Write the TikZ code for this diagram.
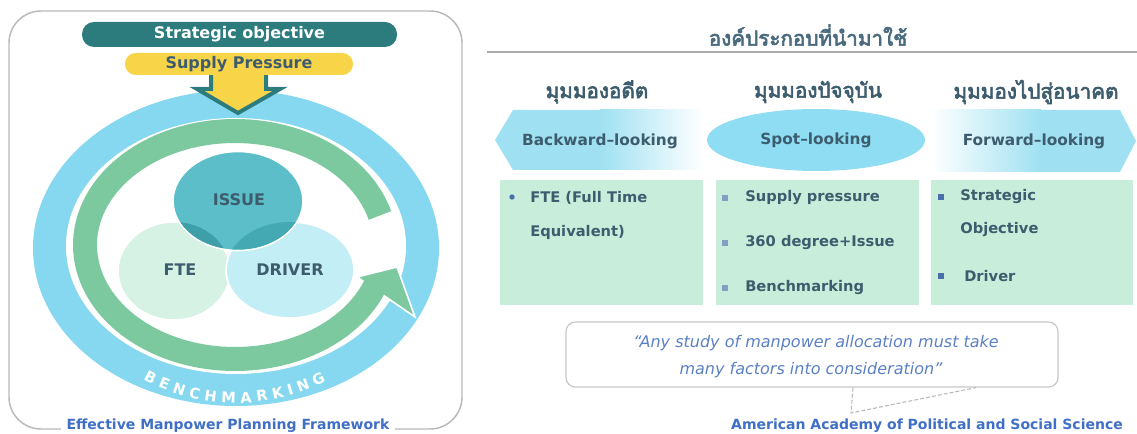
\documentclass[tikz,border=0pt]{standalone}
\usepackage{fontspec}
\usetikzlibrary{shapes.geometric,decorations.text}
\newfontfamily\labfont{DejaVu Sans}
\newfontfamily\thaifont[Script=Thai, FakeBold=3]{Loma}

\definecolor{panelgray}{HTML}{B9B9B9}
\definecolor{tealdark}{HTML}{2C7C7E}
\definecolor{supplyyellow}{HTML}{F8D548}
\definecolor{ringblue}{HTML}{86D8F0}
\definecolor{ringgreen}{HTML}{7CC9A0}
\definecolor{issuecol}{HTML}{5CBEC9}
\definecolor{issuedark}{HTML}{3E9FA9}
\definecolor{issuedarkb}{HTML}{45A9B3}
\definecolor{ftecol}{HTML}{D5F2E5}
\definecolor{drivercol}{HTML}{C4EEF6}
\definecolor{slate}{HTML}{3D5D6E}
\definecolor{titleslate}{HTML}{4A6A7E}
\definecolor{capblue}{HTML}{3F6FC6}
\definecolor{quoteblue}{HTML}{5A80C4}
\definecolor{boxgreen}{HTML}{C8EEDB}
\definecolor{spotblue}{HTML}{8EDDF3}
\definecolor{lookblue}{HTML}{9FE1F2}
\definecolor{bulletblue}{HTML}{4A6EA8}
\definecolor{bulletlight}{HTML}{7F9FC4}
\definecolor{rulegray}{HTML}{ABABAB}

\begin{document}
\begin{tikzpicture}[x=0.75pt,y=-0.75pt,
  panelline/.style={draw=panelgray, line width=1.1pt, rounded corners=24pt},
  pill/.style={rounded corners=9pt, inner sep=0pt,
    font=\labfont\bfseries\fontsize{12}{14}\selectfont},
  vlabel/.style={font=\labfont\bfseries\fontsize{12}{14}\selectfont, text=slate},
  thaititle/.style={font=\thaifont\fontsize{15.5}{18}\selectfont, text=titleslate},
  thaihead/.style={font=\thaifont\fontsize{15.5}{18}\selectfont, text=slate},
  looktext/.style={font=\labfont\bfseries\fontsize{11.5}{13}\selectfont, text=slate},
  gbox/.style={fill=boxgreen, minimum width=152pt, minimum height=93.75pt, inner sep=0pt},
  item/.style={anchor=west, inner sep=0pt, font=\labfont\bfseries\fontsize{11}{13}\selectfont, text=slate},
  roundbullet/.style={circle, fill=bulletblue, minimum size=4pt, inner sep=0pt},
  squarebullet/.style={rectangle, fill=#1, minimum size=4pt, inner sep=0pt},
  quotebox/.style={draw=panelgray!80, line width=0.9pt, rounded corners=7pt,
    minimum width=369pt, minimum height=48.75pt, inner sep=0pt},
  quotetext/.style={font=\labfont\itshape\fontsize{12}{14}\selectfont, text=quoteblue, inner sep=0pt},
  tailline/.style={draw=panelgray, line width=0.8pt, dash pattern=on 3pt off 1.5pt},
  srctext/.style={font=\labfont\bfseries\fontsize{10.5}{12}\selectfont, text=capblue},
]
\useasboundingbox (0,0) rectangle (1137,434);

% ---------- left panel: planning framework ----------
\draw[panelline] (9,11) rectangle (462,429);

% outer benchmarking ring and the white field inside it
\fill[ringblue] (236,248) ellipse (203 and 158);
\fill[white] (236,246) ellipse (170 and 128);

% circular green arrow: head first, then the curved band on top
\filldraw[fill=ringgreen, draw=white, line width=1.2pt, line join=miter]
  (357,277) -- (397,267) -- (415,317) -- cycle;
\draw[ringgreen, line width=18pt]
  plot[domain=15:339, samples=140] ({235+150*cos(\x)},{245-114*sin(\x)});

% curved ring caption
\path[decorate, decoration={text along path, text align={fit to path}, text color=white,
  text={|\labfont\bfseries\fontsize{11}{12}\selectfont|BENCHMARKING}}]
  plot[domain=238:301, samples=60] ({236+175*cos(\x)},{248-155*sin(\x)});

% three overlapping circles
\filldraw[fill=ftecol, draw=white, line width=1.2pt] (174,271) ellipse (56 and 49);
\filldraw[fill=drivercol, draw=white, line width=1.2pt] (290,270) ellipse (64 and 48);
\filldraw[fill=issuecol, draw=white, line width=1.2pt] (238,201) ellipse (65 and 49.5);
\begin{scope}
  \clip (238,201) ellipse (64 and 48.5);
  \fill[issuedark] (174,271) ellipse (56 and 49);
  \fill[issuedarkb] (290,270) ellipse (64 and 48);
\end{scope}
\node[vlabel] (issue) at (239,200) {ISSUE};
\node[vlabel] (fte) at (180,270) {FTE};
\node[vlabel] (driver) at (290,270) {DRIVER};

% downward arrow below the bars
\filldraw[fill=supplyyellow, draw=tealdark, line width=3pt, line join=miter]
  (211,72) -- (211,89) -- (197,89) -- (238,113) -- (280,89) -- (266,89) -- (266,72);

% objective and pressure bars
\node[pill, fill=supplyyellow, text=slate, minimum width=171pt, minimum height=16.5pt,
  rounded corners=8pt] (supply) at (239,64) {Supply Pressure};
\node[pill, fill=tealdark, text=white, minimum width=236.25pt, minimum height=18.75pt]
  (strategic) at (239.5,34.5) {Strategic objective};

% panel caption breaking the frame
\node[srctext, fill=white, anchor=base, inner xsep=4pt, inner ysep=2pt] (caption) at (228,429)
  {Effective Manpower Planning Framework};

% ---------- right panel: components used ----------
\node[thaititle] (title) at (808,35) {องค์ประกอบที่นำมาใช้};
\draw[rulegray, line width=1.8pt] (487,52) -- (1137,52);

\node[thaihead] (past) at (597,92) {มุมมองอดีต};
\node[thaihead] (present) at (818,92) {มุมมองปัจจุบัน};
\node[thaihead] (future) at (1036,92) {มุมมองไปสู่อนาคต};

% backward-looking arrow (fades to the right)
\fill[lookblue] (495,140) -- (513,110) -- (601,110) -- (601,170) -- (513,170) -- cycle;
\shade[left color=lookblue, right color=white] (600,110) rectangle (703,170);
\node[looktext] (back) at (600,141) {Backward–looking};

% spot-looking ellipse
\node[ellipse, fill=spotblue, minimum width=163.5pt, minimum height=46.5pt, looktext]
  (spot) at (816,140) {Spot–looking};

% forward-looking arrow (fades in from the left)
\shade[left color=white, right color=lookblue] (931,110) rectangle (1041,172);
\fill[lookblue] (1040,110) -- (1120,110) -- (1136,141) -- (1120,172) -- (1040,172) -- cycle;
\node[looktext] (fwd) at (1034,141) {Forward–looking};

% item boxes
\node[gbox] (col1) at (601.5,242.5) {};
\node[gbox] (col2) at (817.5,242.5) {};
\node[gbox] (col3) at (1032,242.5) {};

\node[roundbullet] (b11) at (512,197) {};
\node[item] (t11) at (530,198) {FTE (Full Time};
\node[item] (t12) at (530,232) {Equivalent)};

\node[squarebullet=bulletlight] (b21) at (725,198) {};
\node[item] (t21) at (745,198) {Supply pressure};
\node[squarebullet=bulletlight] (b22) at (725,243) {};
\node[item] (t22) at (745,243) {360 degree+Issue};
\node[squarebullet=bulletlight] (b23) at (725,288) {};
\node[item] (t23) at (745,288) {Benchmarking};

\node[squarebullet=bulletblue] (b31) at (941,197) {};
\node[item] (t31) at (960,197) {Strategic};
\node[item] (t32) at (960,230) {Objective};
\node[squarebullet=bulletblue] (b32) at (941,276) {};
\node[item] (t33) at (964,276) {Driver};

% quotation callout
\node[quotebox] (quote) at (812,354.5) {};
\node[quotetext] (q1) at (816,343) {“Any study of manpower allocation must take};
\node[quotetext] (q2) at (811,370) {many factors into consideration”};
\coordinate (tailtip) at (851,413);
\draw[tailline] ([xshift=30.75pt]quote.south) -- (tailtip) -- ([xshift=123pt]quote.south);

\node[srctext, anchor=base] (source) at (927,429)
  {American Academy of Political and Social Science};
\end{tikzpicture}
\end{document}
